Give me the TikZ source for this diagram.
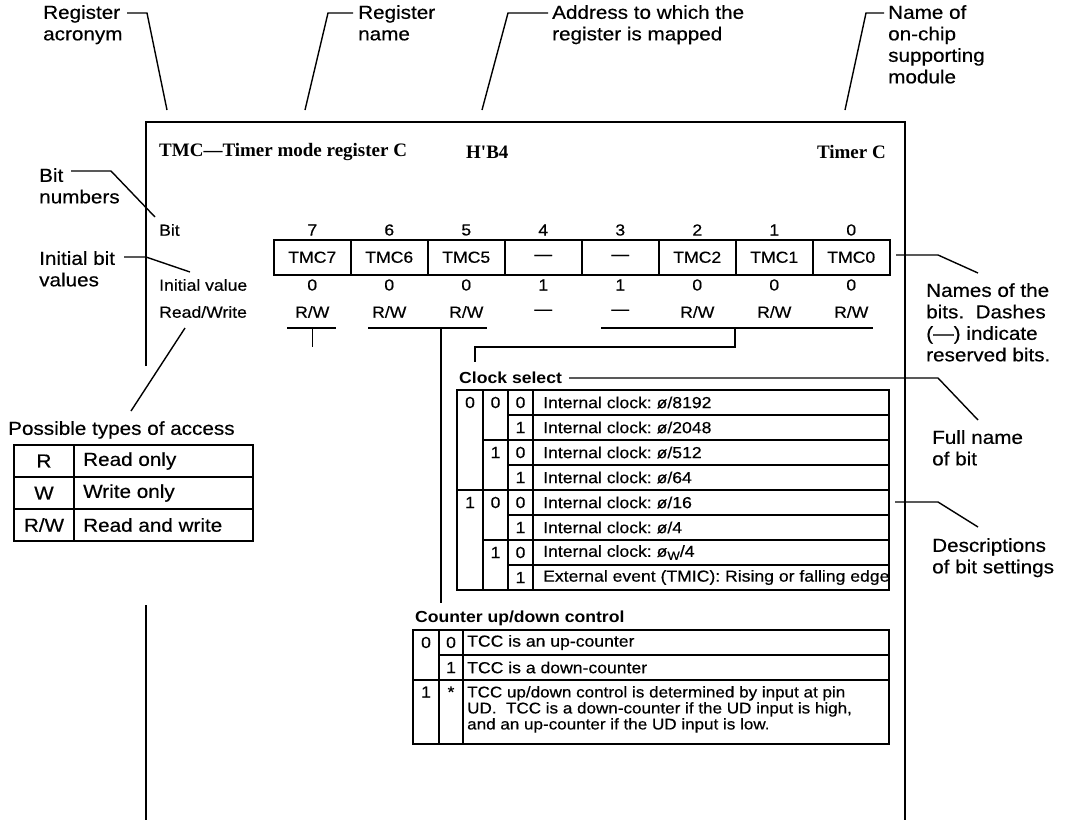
\documentclass[tikz,border=0pt]{standalone}
\usepackage{fontspec}
\setmainfont{Liberation Sans}[FakeStretch=1.1,UprightFeatures={FakeBold=0.4}]
\newfontfamily\hdrfont{Liberation Serif}
\usetikzlibrary{calc}
\newcommand\annfont{\fontsize{18.8}{21.5}\selectfont}
\newcommand\tabfont{\fontsize{16}{16}\selectfont}
\newcommand\hdfont{\hdrfont\bfseries\fontsize{19}{24}\selectfont}
\begin{document}
\begin{tikzpicture}[x=1pt,y=-1pt,
  ann/.style={font=\annfont,align=left,anchor=north west,inner sep=0pt},
  tx/.style={font=\tabfont,inner sep=0pt},
  txl/.style={tx,anchor=west},
  ttl/.style={font=\tabfont\bfseries,inner sep=0pt,anchor=west},
  ldr/.style={line width=1.4pt},
  frm/.style={line width=1.8pt},
  tbl/.style={line width=1.5pt},
  regcell/.style={draw,line width=1.5pt,minimum width=77pt,minimum height=35pt,inner sep=0pt,font=\tabfont,anchor=north west},
  hd/.style={font=\hdfont,inner sep=0pt}]
\useasboundingbox[fill=white] (0,0) rectangle (1065,820);

% ---- frame
\draw[frm] (146,366) -- (146,122) -- (905,122) -- (905,820);
\draw[frm] (146,605) -- (146,820);

% ---- header
\node[hd,anchor=west] (hname) at (159,152) {TMC—Timer mode register C};
\node[hd,anchor=west] (haddr) at (466,152) {H'B4};
\node[hd,anchor=east] (hmod) at (886,152) {Timer C};

% ---- top annotations
\node[ann] (acr) at (43,5) {Register\\acronym};
\coordinate (acrA) at (127,13); \coordinate (acrB) at (147,13); \coordinate (acrC) at (167,110);
\draw[ldr] (acrA) -- (acrB) -- (acrC);
\node[ann] (rnm) at (358,5) {Register\\name};
\coordinate (rnmA) at (353,13); \coordinate (rnmB) at (328,13); \coordinate (rnmC) at (305,110);
\draw[ldr] (rnmA) -- (rnmB) -- (rnmC);
\node[ann] (adr) at (552,5) {Address to which the\\register is mapped};
\coordinate (adrA) at (548,13); \coordinate (adrB) at (508,13); \coordinate (adrC) at (482,110);
\draw[ldr] (adrA) -- (adrB) -- (adrC);
\node[ann] (mod) at (888,5) {Name of\\on-chip\\supporting\\module};
\coordinate (modA) at (884,13); \coordinate (modB) at (866,13); \coordinate (modC) at (845,110);
\draw[ldr] (modA) -- (modB) -- (modC);

% ---- left annotations
\node[ann] (bnum) at (39,168) {Bit\\numbers};
\coordinate (bnA) at (71,171); \coordinate (bnB) at (111,171); \coordinate (bnC) at (155,217);
\draw[ldr] (bnA) -- (bnB) -- (bnC);
\node[ann] (ibv) at (39,251) {Initial bit\\values};
\coordinate (ibA) at (124,257); \coordinate (ibB) at (146,257); \coordinate (ibC) at (190,272);
\draw[ldr] (ibA) -- (ibB) -- (ibC);

% ---- row labels
\node[txl] (lbit) at (159,230) {Bit};
\node[txl] (linit) at (159,285) {Initial value};
\node[txl] (lrw) at (159,312) {Read/Write};
\coordinate (rwA) at (185,328); \coordinate (rwB) at (131,411);
\draw[ldr] (rwA) -- (rwB);

% ---- register
\foreach \n/\nm/\iv/\rw [count=\i from 0] in {7/TMC7/0/{R/W},6/TMC6/0/{R/W},5/TMC5/0/{R/W},4/—/1/—,3/—/1/—,2/TMC2/0/{R/W},1/TMC1/0/{R/W},0/TMC0/0/{R/W}}{
  \node[regcell] (c\n) at (273+77*\i,239) {\nm};
  \node[tx] (n\n) at (c\n.center |- lbit) {\n};
  \node[tx] (v\n) at (c\n.center |- linit) {\iv};
  \node[tx] (w\n) at (c\n.center |- lrw) {\rw};
}

% ---- underline brackets
\coordinate (u7a) at (287,328); \coordinate (u7b) at (336,328);
\draw[ldr] (u7a) -- (u7b);
\draw[ldr] (c7.center |- u7a) -- ++(0,19);
\coordinate (u65a) at (368,328); \coordinate (u65b) at (487,328);
\draw[ldr] (u65a) -- (u65b);
\coordinate (u65c) at (441,328); \coordinate (u65d) at (441,603);
\draw[ldr] (u65c) -- (u65d);
\coordinate (u30a) at (601,328); \coordinate (u30b) at (873,328);
\draw[ldr] (u30a) -- (u30b);
\coordinate (u30c) at (735,328); \coordinate (u30d) at (735,347);
\coordinate (u30e) at (475,347); \coordinate (u30f) at (475,362);
\draw[ldr] (u30c) -- (u30d) -- (u30e) -- (u30f);

% ---- names of bits annotation
\node[ann] (nob) at (926,283) {Names of the\\bits.\ \ Dashes\\(—) indicate\\reserved bits.};
\coordinate (nobA) at (896,255); \coordinate (nobB) at (938,255); \coordinate (nobC) at (978,273);
\draw[ldr] (nobA) -- (nobB) -- (nobC);

% ---- clock select
\node[ttl] (cst) at (459,378) {Clock select};
\coordinate (csA) at (569,378); \coordinate (csB) at (938,378); \coordinate (csC) at (978,420);
\draw[ldr] (csA) -- (csB) -- (csC);
\draw[tbl] (457,390) rectangle (889,590);
\draw[tbl] (483,390) -- (483,590) (508,390) -- (508,590) (533,390) -- (533,590);
\draw[tbl] (457,490) -- (889,490);
\draw[tbl] (483,440) -- (889,440) (483,540) -- (889,540);
\draw[tbl] (508,415) -- (889,415) (508,465) -- (889,465) (508,515) -- (889,515) (508,565) -- (889,565);
\node[tx] (cs1a) at (470,402.5) {0};
\node[tx] (cs1b) at (470,502.5) {1};
\node[tx] (cs2a) at (495.5,402.5) {0};
\node[tx] (cs2b) at (495.5,452.5) {1};
\node[tx] (cs2c) at (495.5,502.5) {0};
\node[tx] (cs2d) at (495.5,552.5) {1};
\foreach \d/\t [count=\r from 0] in {0/{Internal clock:\ ø/8192}, 1/{Internal clock:\ ø/2048}, 0/{Internal clock:\ ø/512}, 1/{Internal clock:\ ø/64}, 0/{Internal clock:\ ø/16}, 1/{Internal clock:\ ø/4}, 0/{Internal clock:\ ø\raisebox{-0.35ex}{\fontsize{12}{12}\selectfont W}/4}, 1/{External event (TMIC): Rising or falling edge}}{
  \node[tx] (cs3\r) at (520.5,402.5+25*\r) {\d};
  \node[txl] (cst\r) at (543,402.5+25*\r) {\t};
}
\node[ann] (fnb) at (932,430) {Full name\\of bit};
\node[ann] (dbs) at (932,538) {Descriptions\\of bit settings};
\coordinate (dbA) at (895,502); \coordinate (dbB) at (938,502); \coordinate (dbC) at (978,527);
\draw[ldr] (dbA) -- (dbB) -- (dbC);

% ---- counter up/down control
\node[ttl] (cud) at (415,618) {Counter up/down control};
\draw[tbl] (413,630) rectangle (889,744);
\draw[tbl] (439,630) -- (439,744) (463,630) -- (463,744);
\draw[tbl] (439,655) -- (889,655) (413,680) -- (889,680);
\node[tx] (cu1a) at (426,642.5) {0};
\node[tx] (cu2a) at (451,642.5) {0};
\node[txl] (cuta) at (467,642.5) {TCC is an up-counter};
\node[tx] (cu2b) at (451,667.5) {1};
\node[txl] (cutb) at (467,667.5) {TCC is a down-counter};
\node[tx] (cu1c) at (426,692) {1};
\node[tx] (cu2c) at (451,692) {*};
\node[tx,anchor=north west,align=left,font=\fontsize{15.5}{16}\selectfont] (cutc) at (467,686) {TCC up/down control is determined by input at pin\\UD.\ \ TCC is a down-counter if the UD input is high,\\and an up-counter if the UD input is low.};

% ---- possible types of access
\node[ann] (pta) at (8,421) {Possible types of access};
\draw[tbl] (14,445) rectangle (253,541);
\draw[tbl] (74,445) -- (74,541) (14,477) -- (253,477) (14,509) -- (253,509);
\node[font=\annfont,inner sep=0pt] (aR) at (44,461) {R};
\node[font=\annfont,inner sep=0pt,anchor=west] (aRt) at (83,461) {Read only};
\node[font=\annfont,inner sep=0pt] (aW) at (44,493) {W};
\node[font=\annfont,inner sep=0pt,anchor=west] (aWt) at (83,493) {Write only};
\node[font=\annfont,inner sep=0pt] (aRW) at (44,525) {R/W};
\node[font=\annfont,inner sep=0pt,anchor=west] (aRWt) at (83,525) {Read and write};
\end{tikzpicture}
\end{document}
